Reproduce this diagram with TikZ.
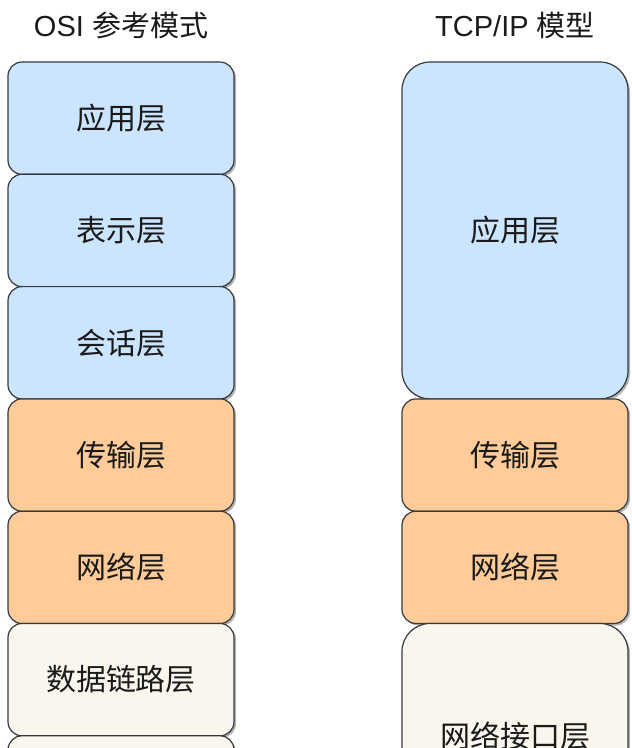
\documentclass[tikz,border=0pt]{standalone}
\usepackage{fontspec}
\setmainfont{Liberation Sans}
\newfontfamily\cjk{Noto Sans CJK SC}
\usetikzlibrary{positioning,shadows}

\definecolor{appblue}{HTML}{CCE5FF}
\definecolor{netorange}{HTML}{FFCC99}
\definecolor{linkcream}{HTML}{F9F7ED}
\definecolor{edgegray}{HTML}{36393D}
\definecolor{textgray}{HTML}{1A1A1A}

\tikzset{
  layer/.style={draw=edgegray, line width=1.2pt, rounded corners=14pt,
    minimum width=226pt, minimum height=112.3pt, inner sep=0pt, outer sep=0pt,
    text=textgray, font=\cjk\fontsize{30}{36}\selectfont,
    drop shadow={shadow xshift=2pt, shadow yshift=-2pt, opacity=0.3, fill=black}},
  upper/.style={layer, fill=appblue},
  middle/.style={layer, fill=netorange},
  lower/.style={layer, fill=linkcream},
  title/.style={text=textgray, font=\fontsize{29}{34}\selectfont},
  node distance=0pt
}

\begin{document}
\begin{tikzpicture}[x=1pt,y=-1pt]
\useasboundingbox (0,0) rectangle (632,748);
\clip (0,0) rectangle (632,748);

% OSI column
\node [title] (osititle) at (121,25) {OSI {\cjk 参考模式}};
\node [upper, anchor=north] (osiapp) at (121,62) {应用层};
\node [upper, below=of osiapp] (osipres) {表示层};
\node [upper, below=of osipres] (osisess) {会话层};
\node [middle, below=of osisess] (ositrans) {传输层};
\node [middle, below=of ositrans] (osinet) {网络层};
\node [lower, below=of osinet] (osilink) {数据链路层};
\node [lower, below=of osilink] (osiphys) {};

% TCP/IP column
\node [title] (tcptitle) at (515,25) {TCP/IP {\cjk 模型}};
\node [upper, anchor=north, rounded corners=28pt, minimum height=336.9pt] (tcpapp) at (515,62) {应用层};
\node [middle, below=of tcpapp] (tcptrans) {传输层};
\node [middle, below=of tcptrans] (tcpnet) {网络层};
\node [lower, below=of tcpnet, rounded corners=28pt, minimum height=224.6pt] (tcplink) {网络接口层};
\end{tikzpicture}
\end{document}
